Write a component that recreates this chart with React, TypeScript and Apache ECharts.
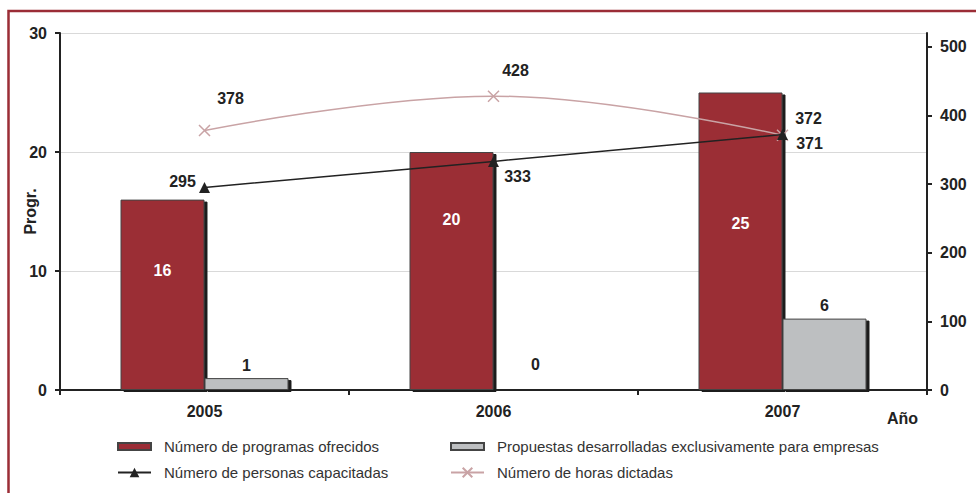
import React, { useEffect, useRef } from "react";
import * as echarts from "echarts";

const categories = ["2005", "2006", "2007"];
const programas = [16, 20, 25];
const propuestas = [1, 0, 6];
const personas = [295, 333, 372];
const horas = [378, 428, 371];
const leftTicks = [0, 10, 20, 30];
const rightTicks = [0, 100, 200, 300, 400, 500];

const FONT = "Arial, 'Liberation Sans', sans-serif";
const RED = "#9B2D36";
const GRAY = "#BDBFC1";
const PINK = "#C9A3A5";
const DARK = "#222222";

const progLabelOffsets = [-24, -52, -18];
const personasOffsets = [[-22, -6], [24, 15], [26, -16]];
const horasOffsets = [[26, -32], [22, -26], [27, 8]];

export default function App() {
  const ref = useRef<HTMLDivElement>(null);
  useEffect(() => {
    if (!ref.current) return;
    const chart = echarts.init(ref.current, null, { renderer: "svg" });
    const boldLabel = { fontFamily: FONT, fontWeight: "bold", fontSize: 16, color: DARK };
    const legendBase = {
      orient: "vertical",
      top: 439,
      padding: 0,
      itemWidth: 33,
      itemHeight: 12,
      itemGap: 11,
      textStyle: { fontFamily: FONT, fontSize: 15, color: "#333", lineHeight: 12, padding: [0, 0, 0, 8] },
    };
    const option: any = {
      animation: false,
      backgroundColor: "#ffffff",
      textStyle: { fontFamily: FONT },
      grid: { left: 60, right: 49, top: 33, bottom: 103, outerBoundsMode: "none", containLabel: false },
      graphic: [
        {
          type: "rect",
          shape: { x: 8.5, y: 11, width: 1000, height: 1000 },
          style: { fill: "none", stroke: "#9B2D36", lineWidth: 2.5 },
          silent: true,
          z: 100,
        },
      ],
      legend: [
        {
          ...legendBase,
          left: 117,
          data: [
            { name: "Número de programas ofrecidos", icon: "path://M0,0 H33 V7 H0 Z" },
            { name: "Número de personas capacitadas" },
          ],
        },
        {
          ...legendBase,
          left: 450,
          data: [
            { name: "Propuestas desarrolladas exclusivamente para empresas", icon: "path://M0,0 H33 V7 H0 Z" },
            { name: "Número de horas dictadas" },
          ],
        },
      ],
      xAxis: {
        type: "category",
        data: categories,
        name: "Año",
        nameLocation: "end",
        nameGap: -9,
        nameMoveOverlap: false,
        nameTextStyle: {
          fontFamily: FONT,
          fontWeight: "bold",
          fontSize: 16,
          color: DARK,
          align: "right",
          verticalAlign: "top",
          padding: [20, 0, 0, 0],
        },
        axisLine: { lineStyle: { color: DARK, width: 2 } },
        axisTick: { show: true, length: 5, lineStyle: { color: DARK, width: 2 } },
        axisLabel: { ...boldLabel, margin: 13 },
      },
      yAxis: [
        {
          type: "value",
          min: 0,
          max: 30,
          interval: 10,
          name: "Progr.",
          nameLocation: "middle",
          nameGap: 22,
          nameRotate: 90,
          nameMoveOverlap: false,
          nameTextStyle: { fontFamily: FONT, fontWeight: "bold", fontSize: 16, color: DARK },
          axisLine: { show: true, lineStyle: { color: DARK, width: 2 } },
          axisTick: { show: true, length: 5, lineStyle: { color: DARK, width: 2 } },
          axisLabel: {
            ...boldLabel,
            margin: 13,
            customValues: leftTicks,
          },
          splitLine: { show: true, lineStyle: { color: "#D9D9D9", width: 1 } },
        },
        {
          type: "value",
          min: 0,
          max: 520,
          interval: 100,
          position: "right",
          axisLine: { show: true, lineStyle: { color: DARK, width: 2 } },
          axisTick: { show: true, length: 5, lineStyle: { color: DARK, width: 2 }, customValues: rightTicks },
          axisLabel: { ...boldLabel, margin: 13, customValues: rightTicks },
          splitLine: { show: false },
        },
      ],
      series: [
        {
          name: "Número de programas ofrecidos",
          type: "bar",
          yAxisIndex: 0,
          barWidth: 84,
          barGap: "0%",
          data: programas.map((v, i) => ({
            value: v,
            label: { offset: [0, progLabelOffsets[i]] },
          })),
          itemStyle: {
            color: RED,
            borderColor: "#444",
            borderWidth: 1,
            shadowColor: "#1a1a1a",
            shadowBlur: 0,
            shadowOffsetX: 3,
            shadowOffsetY: 2,
          },
          label: {
            show: true,
            position: "inside",
            fontFamily: FONT,
            fontWeight: "bold",
            fontSize: 16,
            color: "#ffffff",
          },
          z: 2,
        },
        {
          name: "Propuestas desarrolladas exclusivamente para empresas",
          type: "bar",
          yAxisIndex: 0,
          barWidth: 84,
          barGap: "0%",
          data: propuestas.map((v) =>
            v === 0 ? { value: v, label: { offset: [0, -12] } } : { value: v }
          ),
          itemStyle: {
            color: GRAY,
            borderColor: "#444",
            borderWidth: 1,
            shadowColor: "#1a1a1a",
            shadowBlur: 0,
            shadowOffsetX: 3,
            shadowOffsetY: 2,
          },
          label: {
            show: true,
            position: "top",
            distance: 5,
            fontFamily: FONT,
            fontWeight: "bold",
            fontSize: 16,
            color: DARK,
          },
          z: 2,
        },
        {
          name: "Número de personas capacitadas",
          type: "line",
          yAxisIndex: 1,
          symbol: "triangle",
          symbolSize: 11,
          lineStyle: { color: DARK, width: 1.5 },
          itemStyle: { color: DARK },
          data: personas.map((v, i) => ({
            value: v,
            label: { offset: personasOffsets[i] },
          })),
          label: {
            show: true,
            position: "inside",
            fontFamily: FONT,
            fontWeight: "bold",
            fontSize: 16,
            color: DARK,
          },
          z: 5,
        },
        {
          name: "Número de horas dictadas",
          type: "line",
          yAxisIndex: 1,
          smooth: 0.4,
          symbol: "path://M0,0 L10,10 M10,0 L0,10",
          symbolSize: 11,
          lineStyle: { color: PINK, width: 1.5 },
          itemStyle: { color: PINK, borderColor: PINK, borderWidth: 1.5 },
          data: horas.map((v, i) => ({
            value: v,
            label: { offset: horasOffsets[i] },
          })),
          label: {
            show: true,
            position: "inside",
            fontFamily: FONT,
            fontWeight: "bold",
            fontSize: 16,
            color: DARK,
          },
          z: 4,
        },
      ],
    };
    chart.setOption(option);
    return () => chart.dispose();
  }, []);
  return (
    <div
      ref={ref}
      style={{ position: "fixed", left: 0, top: 0, width: 976, height: 493, background: "#fff" }}
    />
  );
}
